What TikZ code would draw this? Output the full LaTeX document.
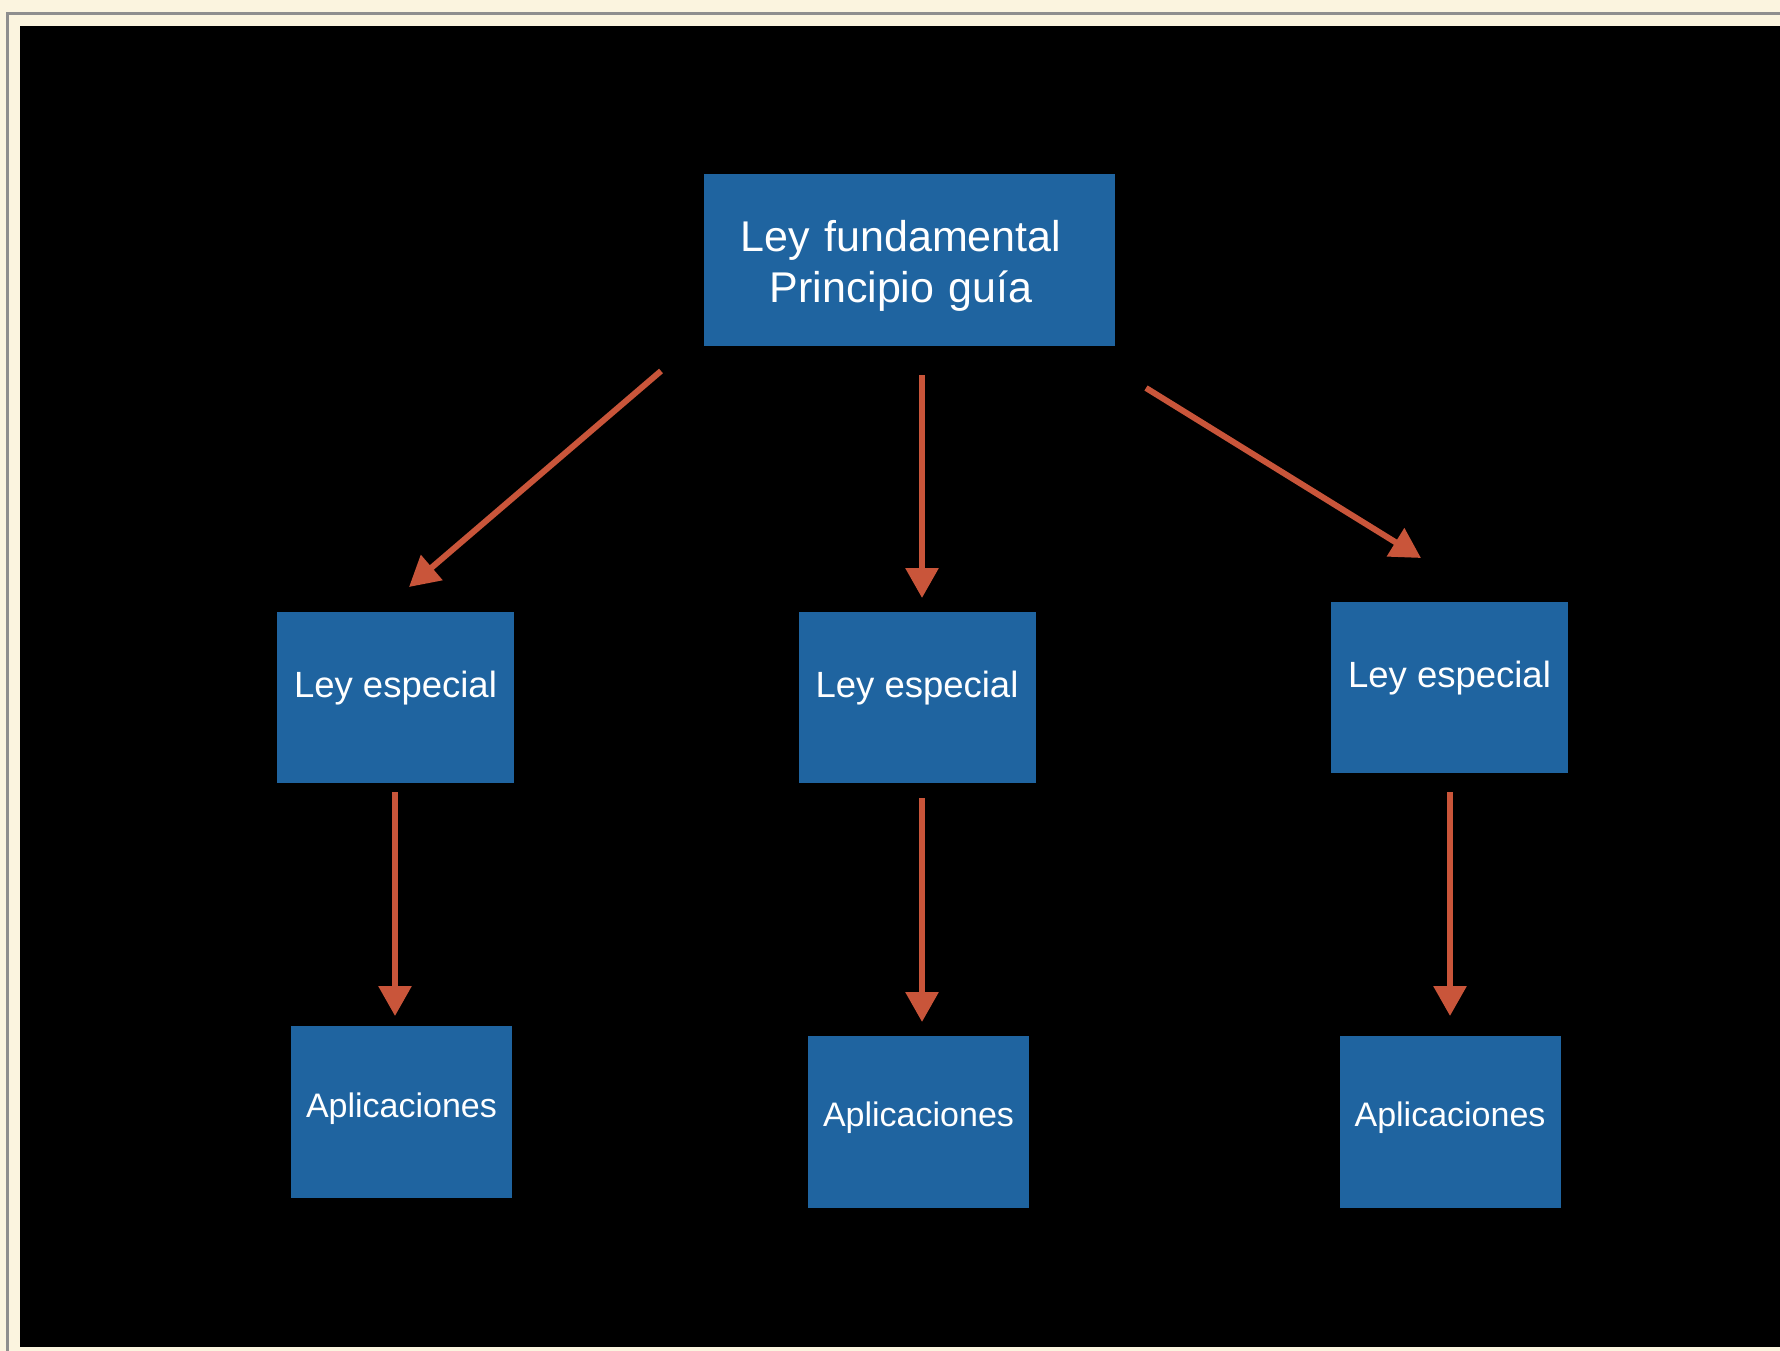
\documentclass[tikz,border=0pt]{standalone}
\usepackage{fontspec}
\setmainfont{Liberation Sans}
\usetikzlibrary{arrows.meta}
\definecolor{paper}{HTML}{FBF4DF}
\definecolor{rule}{HTML}{8E8E8E}
\definecolor{boxblue}{HTML}{1F64A0}
\definecolor{arrowred}{HTML}{C9553A}
\begin{document}
\begin{tikzpicture}[x=1pt,y=-1pt,
  box/.style={fill=boxblue, draw=none, text=white, inner sep=0pt, align=center},
  mainbox/.style={box, minimum width=411pt, minimum height=171pt,
    text width=411pt, font=\fontsize{43}{51}\selectfont,
    text height=43pt, text depth=60pt},
  lawbox/.style={box, minimum width=237pt, minimum height=171pt,
    font=\fontsize{36.5}{44}\selectfont, text height=27pt, text depth=28pt},
  appbox/.style={box, minimum width=221pt, minimum height=172pt,
    font=\fontsize{34}{41}\selectfont, text height=29pt, text depth=19pt},
  flow/.style={draw=arrowred, line width=6pt,
    -{Triangle[length=30pt,width=32pt]}}]
  % paper, frame rules and black panel
  \fill[paper] (0,0) rectangle (1780,1351);
  \fill[rule] (6,12) rectangle (1780,15);
  \fill[rule] (6,12) rectangle (9,1351);
  \fill[black] (20,26) rectangle (1780,1347);
  \useasboundingbox (0,0) rectangle (1780,1351);

  % boxes
  \node[mainbox] (top) at (909.5,260)
    {\hspace*{-17pt}Ley fundamental\\\hspace*{-17pt}Principio guía};
  \node[lawbox] (le1) at (395.5,697.5) {Ley especial};
  \node[lawbox] (le2) at (917,697.5) {Ley especial};
  \node[lawbox] (le3) at (1449.5,687.5) {Ley especial};
  \node[appbox] (ap1) at (401.5,1112) {Aplicaciones};
  \node[appbox] (ap2) at (918.5,1121.5) {Aplicaciones};
  \node[appbox] (ap3) at (1450,1121.5) {Aplicaciones};

  % arrow end points, set off from the boxes
  \coordinate (t1) at (661,371);
  \coordinate (h1) at (409,587);
  \coordinate (t2) at (922,375);
  \coordinate (h2) at (922,598);
  \coordinate (t3) at (1146,388);
  \coordinate (h3) at (1421,558);
  \coordinate (t4) at (395,792);
  \coordinate (h4) at (395,1016);
  \coordinate (t5) at (922,798);
  \coordinate (h5) at (922,1022);
  \coordinate (t6) at (1450,792);
  \coordinate (h6) at (1450,1016);

  \draw[flow] (t1) -- (h1);
  \draw[flow] (t2) -- (h2);
  \draw[flow] (t3) -- (h3);
  \draw[flow] (t4) -- (h4);
  \draw[flow] (t5) -- (h5);
  \draw[flow] (t6) -- (h6);
\end{tikzpicture}
\end{document}
